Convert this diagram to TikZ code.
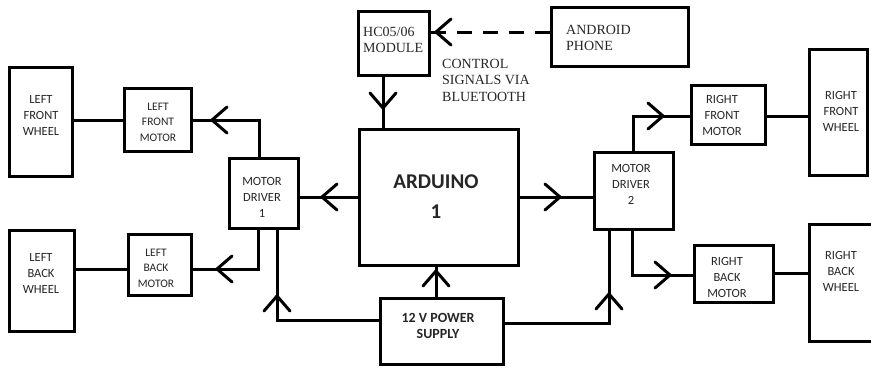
\documentclass[tikz,border=0pt]{standalone}
\usepackage{fontspec}
\setmainfont{Carlito}
\newfontfamily\serifface{Liberation Serif}
\tikzset{
  blk/.style={draw=black, line width=3pt, inner sep=0pt},
  wire/.style={line width=3pt, line cap=round, line join=miter},
  lbl/.style={align=center, inner sep=0pt, text=black!85},
  small/.style={lbl, font=\fontsize{11.5}{15.5}\selectfont},
  mid/.style={lbl, font=\fontsize{12.5}{16}\selectfont},
  serifnote/.style={align=left, anchor=west, inner sep=0pt, text=black!85,
    font=\serifface\fontsize{14}{16.5}\selectfont},
  chev/.pic={\draw[line width=3pt, line cap=round, line join=miter]
    (-15,-13) -- (0,0) -- (-15,13);}
}
\begin{document}
\begin{tikzpicture}[x=1pt,y=-1pt]
\useasboundingbox (0,0) rectangle (871,368);

% ---- blocks ----
\node[blk, minimum width=63pt, minimum height=109pt] (lfw) at (41,122) {};
\node[blk, minimum width=67pt, minimum height=63pt]  (lfm) at (158,120) {};
\node[blk, minimum width=65pt, minimum height=101pt] (lbw) at (42,281) {};
\node[blk, minimum width=63pt, minimum height=61pt]  (lbm) at (160,265) {};
\node[blk, minimum width=69pt, minimum height=70pt]  (md1) at (264,193.5) {};
\node[blk, minimum width=159pt, minimum height=136pt] (ard) at (439,197.5) {};
\node[blk, minimum width=123pt, minimum height=66pt] (pwr) at (442,331.5) {};
\node[blk, minimum width=79pt, minimum height=77pt]  (md2) at (634,191) {};
\node[blk, minimum width=74pt, minimum height=59pt]  (rfm) at (728.5,115) {};
\node[blk, minimum width=58pt, minimum height=126pt] (rfw) at (838.5,112.5) {};
\node[blk, minimum width=79pt, minimum height=57pt]  (rbm) at (734,274) {};
\node[blk, minimum width=64pt, minimum height=117pt] (rbw) at (841.5,283) {};
\node[blk, minimum width=71pt, minimum height=64pt]  (hc)  at (394,43.5) {};
\node[blk, minimum width=137pt, minimum height=59pt] (phone) at (620,37) {};

% ---- block texts ----
\node[mid]   (lfw-t) at (41,115)  {LEFT\\FRONT\\WHEEL};
\node[small] (lfm-t) at (158,122) {LEFT\\FRONT\\MOTOR};
\node[mid]   (lbw-t) at (41,273)  {LEFT\\BACK\\WHEEL};
\node[small] (lbm-t) at (156,268) {LEFT\\BACK\\MOTOR};
\node[mid]   (md1-t) at (262,197) {MOTOR\\DRIVER\\1};
\node[lbl, font=\bfseries\fontsize{21}{30}\selectfont] (ard-t) at (436,197) {ARDUINO\\1};
\node[lbl, font=\bfseries\fontsize{14}{16.5}\selectfont] (pwr-t) at (438,326) {12 V POWER\\SUPPLY};
\node[mid]   (md2-t) at (631,184) {MOTOR\\DRIVER\\2};
\node[mid]   (rfm-t) at (722,115) {RIGHT\\FRONT\\MOTOR};
\node[mid]   (rfw-t) at (841,111) {RIGHT\\FRONT\\WHEEL};
\node[mid]   (rbm-t) at (727,277) {RIGHT\\BACK\\MOTOR};
\node[mid]   (rbw-t) at (841,271) {RIGHT\\BACK\\WHEEL};
\node[serifnote] (hc-t)    at (363,40) {HC05/06\\MODULE};
\node[serifnote] (phone-t) at (566,38) {ANDROID\\PHONE};
\node[serifnote] (bt-t)    at (442,80) {CONTROL\\SIGNALS VIA\\BLUETOOTH};

% ---- routing points ----
\coordinate (j1) at (259,120);
\coordinate (j2) at (258,269);
\coordinate (j3) at (277,320);
\coordinate (j4) at (0,197);
\coordinate (j5) at (436,0);
\coordinate (j6) at (609,323);
\coordinate (j7) at (633,116);
\coordinate (j8) at (632,275);
\coordinate (j9) at (0,32);
\coordinate (j10) at (383,0);
\coordinate (j11) at (0,273);

% ---- connectors ----
\draw[wire] (lfm.west) -- (lfm.west -| lfw.east);
\draw[wire] (md1.north -| j1) -- (j1) -- (j1 -| lfm.east);
\draw[wire] (md1.south -| j2) -- (j2) -- (j2 -| lbm.east);
\draw[wire] (lbm.west |- j2) -- (j2 -| lbw.east);
\draw[wire] (md1.south -| j3) -- (j3) -- (j3 -| pwr.west);
\draw[wire] (ard.west |- j4) -- (md1.east |- j4);
\draw[wire] (ard.east |- j4) -- (md2.west |- j4);
\draw[wire] (pwr.north -| j5) -- (ard.south -| j5);
\draw[wire] (pwr.east |- j6) -- (j6) -- (j6 |- md2.south);
\draw[wire] (md2.north -| j7) -- (j7) -- (j7 -| rfm.west);
\draw[wire] (rfm.east |- j7) -- (rfw.west |- j7);
\draw[wire] (md2.south -| j8) -- (j8) -- (j8 -| rbm.west);
\draw[wire] (rbm.east |- j11) -- (rbw.west |- j11);
\draw[wire, line cap=butt, dash pattern=on 15pt off 11pt] (phone.west |- j9) -- (hc.east |- j9);
\draw[wire] (hc.south -| j10) -- (ard.north -| j10);

% ---- arrowheads ----
\pic[rotate=180] at (212,120) {chev};
\pic[rotate=180] at (217,269) {chev};
\pic[rotate=90]  at (277,296) {chev};
\pic[rotate=180] at (322,197) {chev};
\pic             at (560,197) {chev};
\pic[rotate=90]  at (436,271) {chev};
\pic[rotate=90]  at (609,294) {chev};
\pic             at (663,116) {chev};
\pic             at (670,275) {chev};
\pic[rotate=180] at (436,32)  {chev};
\pic[rotate=-90] at (383,108) {chev};
\end{tikzpicture}
\end{document}
